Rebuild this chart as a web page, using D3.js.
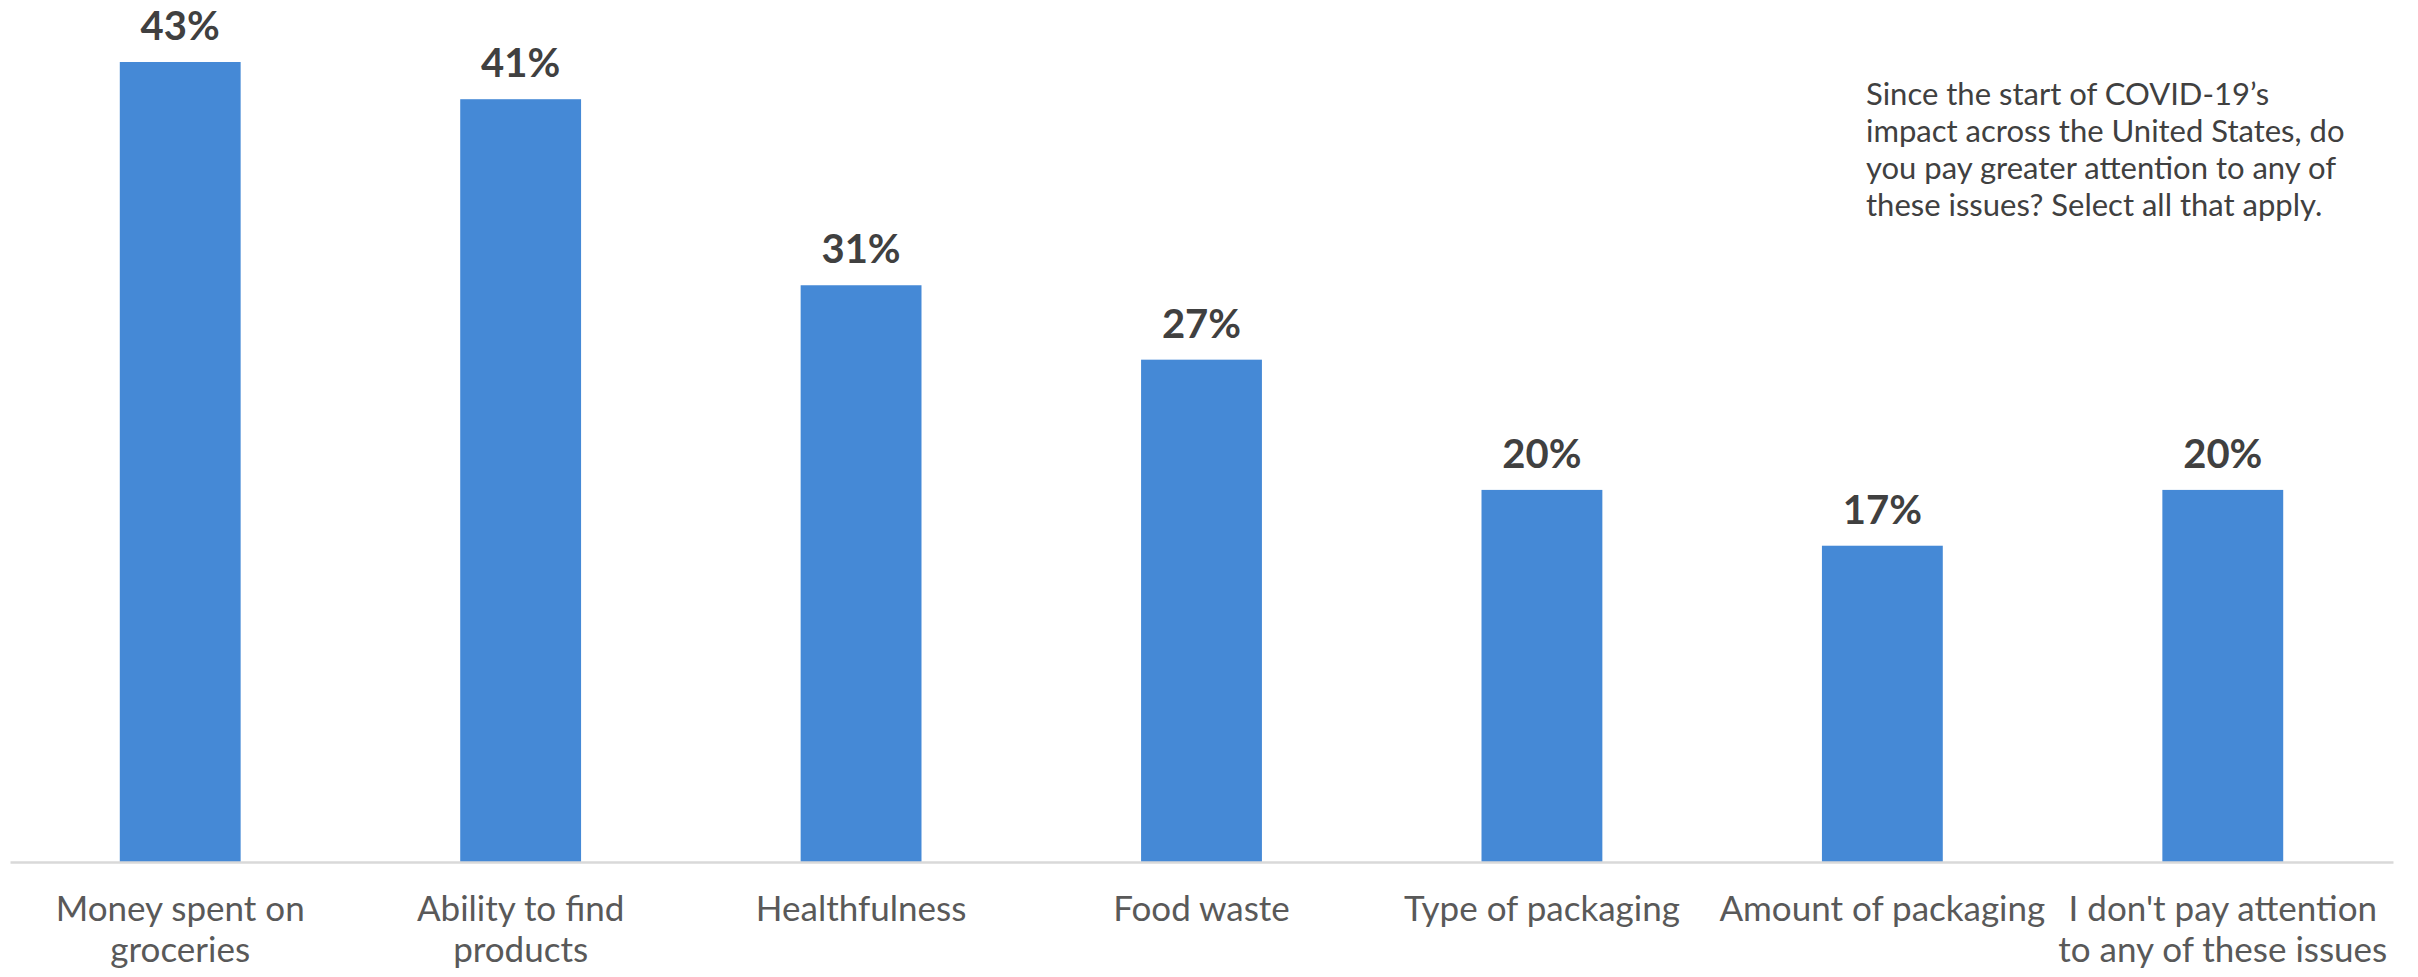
<!DOCTYPE html>
<html>
<head>
<meta charset="utf-8">
<script src="https://cdn.jsdelivr.net/npm/d3@7/dist/d3.min.js"></script>
<style>
  html, body { margin: 0; padding: 0; background: #ffffff; }
  svg { display: block; }
</style>
</head>
<body>
<svg id="chart" width="2418" height="977"></svg>
<script>
const categories = [
  "Money spent on\ngroceries",
  "Ability to find\nproducts",
  "Healthfulness",
  "Food waste",
  "Type of packaging",
  "Amount of packaging",
  "I don't pay attention\nto any of these issues"
];
const values = [43, 41, 31, 27, 20, 17, 20];
const valueLabels = ["43%", "41%", "31%", "27%", "20%", "17%", "20%"];
const noteLines = [
  "Since the start of COVID-19\u2019s",
  "impact across the United States, do",
  "you pay greater attention to any of",
  "these issues? Select all that apply."
];

const FONT = "Lato, 'Open Sans', sans-serif";
const svg = d3.select("#chart");
const baseline = 862;

const x = d3.scaleBand()
  .domain(categories)
  .range([10, 2393])
  .paddingInner(0.645)
  .paddingOuter(0.3225);

const y = d3.scaleLinear()
  .domain([0, 43])
  .range([baseline, 62]);

// bars
svg.append("g").selectAll("rect")
  .data(categories)
  .join("rect")
  .attr("x", d => x(d))
  .attr("width", x.bandwidth())
  .attr("y", (d, i) => y(values[i]))
  .attr("height", (d, i) => baseline - y(values[i]))
  .attr("fill", "#4589D6");

// axis
const xAxis = d3.axisBottom(x).tickSize(0).tickFormat("");
const gAxis = svg.append("g")
  .attr("transform", `translate(0,${baseline})`)
  .call(xAxis);
gAxis.select(".domain").attr("stroke", "#D9D9D9").attr("stroke-width", 2.5);

// category labels
const catG = svg.append("g");
categories.forEach((c, i) => {
  const t = catG.append("text")
    .attr("x", x(c) + x.bandwidth() / 2)
    .attr("y", 921)
    .attr("text-anchor", "middle")
    .attr("font-family", FONT)
    .attr("font-size", 35)
    .attr("fill", "#595959");
  c.split("\n").forEach((line, j) => {
    t.append("tspan")
      .attr("x", x(c) + x.bandwidth() / 2)
      .attr("dy", j === 0 ? 0 : 41)
      .text(line);
  });
});

// value labels
svg.append("g").selectAll("text")
  .data(categories)
  .join("text")
  .attr("x", d => x(d) + x.bandwidth() / 2)
  .attr("y", (d, i) => y(values[i]) - 22)
  .attr("text-anchor", "middle")
  .attr("font-family", FONT)
  .attr("font-weight", "bold")
  .attr("font-size", 40)
  .attr("fill", "#404040")
  .text((d, i) => valueLabels[i]);

// note
const note = svg.append("text")
  .attr("x", 1866)
  .attr("y", 105)
  .attr("font-family", FONT)
  .attr("font-size", 31)
  .attr("fill", "#404040");
noteLines.forEach((l, j) => {
  note.append("tspan").attr("x", 1866).attr("dy", j === 0 ? 0 : 37).text(l);
});
</script>
</body>
</html>
